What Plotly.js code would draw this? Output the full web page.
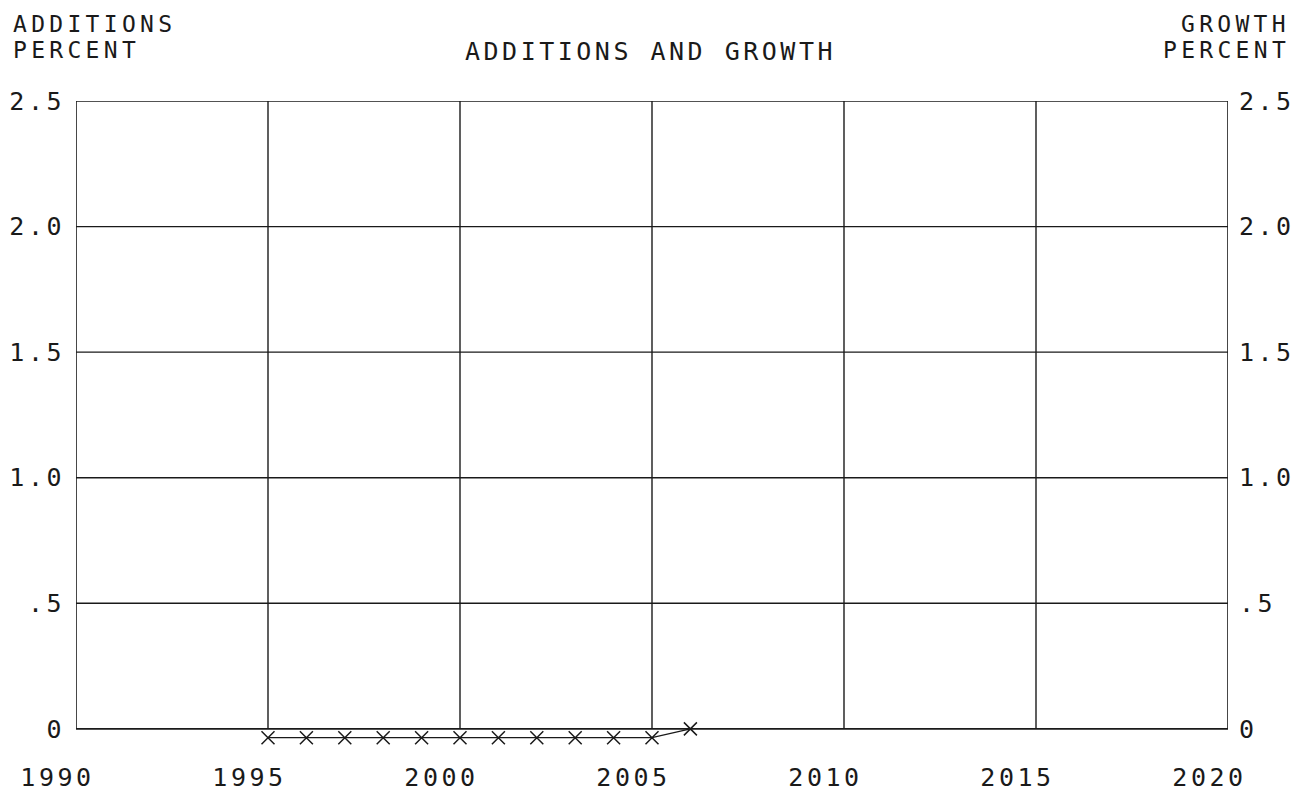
<!DOCTYPE html>
<html>
<head>
<meta charset="utf-8">
<script src="https://cdn.plot.ly/plotly-3.0.1.min.js"></script>
<style>html,body{margin:0;padding:0;background:#fff;}#chart{width:1301px;height:795px;}</style>
</head>
<body>
<div id="chart"></div>
<script>
const years = [1995, 1996, 1997, 1998, 1999, 2000, 2001, 2002, 2003, 2004, 2005, 2006];
const additions = [-0.035, -0.035, -0.035, -0.035, -0.035, -0.035, -0.035, -0.035, -0.035, -0.035, -0.035, 0.0];
const xTickVals = [1990, 1995, 2000, 2005, 2010, 2015, 2020];
const xTickText = ['1990', '1995', '2000', '2005', '2010', '2015', '2020'];
const yTickVals = [0, 0.5, 1.0, 1.5, 2.0, 2.5];
const yTickText = ['0', '.5', '1.0', '1.5', '2.0', '2.5'];
const xRange = [1990, 2020];
const yRange = [-0.1, 2.5];

const FONT = 'DejaVu Sans Mono, monospace';
const INK = '#1a1a1a';
const sp = t => '<span style="letter-spacing:3.5px">' + t + '</span>';
const spa = t => '<span style="letter-spacing:4.3px">' + t + '</span>';
const spx = t => '<span style="letter-spacing:3.5px">' + t + '&nbsp;&nbsp;</span>';

const shapes = [];
shapes.push({type: 'rect', xref: 'x', yref: 'y', x0: xRange[0], x1: xRange[1], y0: 0, y1: yTickVals[yTickVals.length - 1],
  line: {color: INK, width: 1.6}, layer: 'below'});
xTickVals.slice(1, -1).forEach(v => shapes.push({type: 'line', xref: 'x', yref: 'y', x0: v, x1: v, y0: 0, y1: 2.5,
  line: {color: INK, width: 1.4}, layer: 'below'}));
yTickVals.slice(1, -1).forEach(v => shapes.push({type: 'line', xref: 'x', yref: 'y', x0: xRange[0], x1: xRange[1], y0: v, y1: v,
  line: {color: INK, width: 1.4}, layer: 'below'}));

const trace = {
  x: years, y: additions, type: 'scatter', mode: 'lines+markers',
  line: {color: INK, width: 1.3},
  marker: {symbol: 'x-thin-open', size: 13, color: INK, line: {color: INK, width: 1.5}},
  cliponaxis: false, showlegend: false, hoverinfo: 'skip'
};
const trace2 = {x: [xRange[0]], y: [0], yaxis: 'y2', type: 'scatter', mode: 'none', showlegend: false, hoverinfo: 'skip'};

const tickFont = {family: FONT, size: 25, color: INK};
const annFont = {family: FONT, size: 23, color: INK};

const layout = {
  width: 1301, height: 795,
  margin: {l: 76, r: 73, t: 101, b: 41},
  paper_bgcolor: '#fff', plot_bgcolor: '#fff',
  title: {text: sp('ADDITIONS AND GROWTH'), font: {family: FONT, size: 25, color: INK}, x: 0.5, xanchor: 'center', y: 0.936, yanchor: 'middle'},
  xaxis: {range: xRange, tickvals: xTickVals, ticktext: xTickText.map(spx), showgrid: false, zeroline: false, showline: false,
    ticks: '', tickfont: tickFont, ticklabelstandoff: 6, fixedrange: true},
  yaxis: {range: yRange, tickvals: yTickVals, ticktext: yTickText.map(sp), showgrid: false, zeroline: false, showline: false,
    ticks: '', tickfont: tickFont, ticklabelstandoff: 10, fixedrange: true},
  yaxis2: {range: yRange, tickvals: yTickVals, ticktext: yTickText.map(sp), overlaying: 'y', side: 'right', showgrid: false,
    zeroline: false, showline: false, ticks: '', tickfont: tickFont, ticklabelstandoff: 10, fixedrange: true},
  shapes: shapes,
  annotations: [
    {text: spa('ADDITIONS'), xref: 'paper', yref: 'paper', x: 11, y: 24, xanchor: 'left', yanchor: 'middle', showarrow: false, font: annFont},
    {text: spa('PERCENT'), xref: 'paper', yref: 'paper', x: 11, y: 50, xanchor: 'left', yanchor: 'middle', showarrow: false, font: annFont},
    {text: spa('GROWTH'), xref: 'paper', yref: 'paper', x: 1292, y: 24, xanchor: 'right', yanchor: 'middle', showarrow: false, font: annFont},
    {text: spa('PERCENT'), xref: 'paper', yref: 'paper', x: 1292, y: 50, xanchor: 'right', yanchor: 'middle', showarrow: false, font: annFont}
  ]
};
const pw = 1301 - 76 - 73, ph = 795 - 101 - 41;
layout.annotations.forEach(a => { a.x = (a.x - 76) / pw; a.y = (795 - 41 - a.y) / ph; });

Plotly.newPlot('chart', [trace, trace2], layout, {displayModeBar: false, staticPlot: true});
</script>
</body>
</html>
